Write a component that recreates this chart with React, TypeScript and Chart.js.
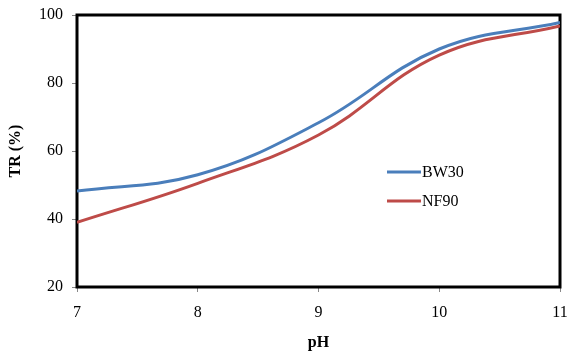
import React, { useEffect, useRef } from "react";
import { Chart, registerables } from "chart.js";

Chart.register(...registerables);

const phValues = [7, 8, 9, 10, 11];
const bw30 = [48.2, 53.0, 68.3, 90.0, 97.8];
const nf90 = [39.0, 50.5, 64.7, 88.2, 96.8];
const seriesLabels = ["BW30", "NF90"];
const seriesColors = ["#4a7ebb", "#be4b48"];
const yTicks = [20, 40, 60, 80, 100];

const FONT = "'Liberation Serif', 'Times New Roman', serif";

const frameAndLegend = {
  id: "frameAndLegend",
  beforeDatasetsDraw(chart: any) {
    const { ctx, chartArea } = chart;
    ctx.save();
    ctx.strokeStyle = "#000";
    ctx.lineWidth = 3;
    ctx.strokeRect(chartArea.left, chartArea.top, chartArea.right - chartArea.left, chartArea.bottom - chartArea.top);
    ctx.restore();
  },
  afterDatasetsDraw(chart: any) {
    const { ctx } = chart;
    ctx.save();
    ctx.font = `16px ${FONT}`;
    ctx.textBaseline = "middle";
    ctx.textAlign = "left";
    chart.data.datasets.forEach((ds: any, i: number) => {
      const y = 172 + i * 29;
      ctx.strokeStyle = ds.borderColor;
      ctx.lineWidth = 3;
      ctx.beginPath();
      ctx.moveTo(387, y);
      ctx.lineTo(421, y);
      ctx.stroke();
      ctx.fillStyle = "#000";
      ctx.fillText(ds.label, 422, y + 1);
    });
    ctx.restore();
  },
};

export default function App() {
  const ref = useRef<HTMLCanvasElement>(null);
  useEffect(() => {
    document.body.style.margin = "0";
    const mk = (vals: number[]) => phValues.map((x, i) => ({ x, y: vals[i] }));
    const chart = new Chart(ref.current!, {
      type: "line",
      data: {
        datasets: [
          { label: seriesLabels[0], data: mk(bw30), borderColor: seriesColors[0], borderWidth: 3, pointRadius: 0, tension: 0.4, fill: false },
          { label: seriesLabels[1], data: mk(nf90), borderColor: seriesColors[1], borderWidth: 3, pointRadius: 0, tension: 0.4, fill: false },
        ],
      },
      options: {
        animation: false,
        responsive: false,
        layout: { padding: { top: 15, right: 8, left: 0, bottom: 0 } },
        plugins: { legend: { display: false }, tooltip: { enabled: false } },
        scales: {
          x: {
            type: "linear",
            min: 7,
            max: 11,
            afterFit: (s: any) => { s.height = 67; s.paddingLeft = 0; s.paddingRight = 0; },
            ticks: { stepSize: 1, color: "#000", font: { family: FONT, size: 16 }, padding: 11, maxRotation: 0 },
            grid: { drawOnChartArea: false, drawTicks: true, tickLength: 5, color: "#888" },
            border: { display: false },
            title: { display: true, text: "pH", color: "#000", font: { family: FONT, size: 16, weight: "bold" }, padding: { top: 0, bottom: 2 } },
          },
          y: {
            type: "linear",
            min: 20,
            max: 100,
            afterFit: (s: any) => { s.width = 77; s.paddingTop = 0; s.paddingBottom = 0; },
            afterBuildTicks: (s: any) => { s.ticks = yTicks.map((v) => ({ value: v })); },
            ticks: { color: "#000", font: { family: FONT, size: 16 }, padding: 9 },
            grid: { drawOnChartArea: false, drawTicks: true, tickLength: 5, color: "#888" },
            border: { display: false },
            title: { display: true, text: "TR (%)", color: "#000", font: { family: FONT, size: 16, weight: "bold" }, padding: { top: 6, bottom: 0 } },
          },
        },
      },
      plugins: [frameAndLegend],
    });
    return () => chart.destroy();
  }, []);
  return (
    <div style={{ width: 568, height: 354 }}>
      <canvas ref={ref} width={568} height={354} />
    </div>
  );
}
